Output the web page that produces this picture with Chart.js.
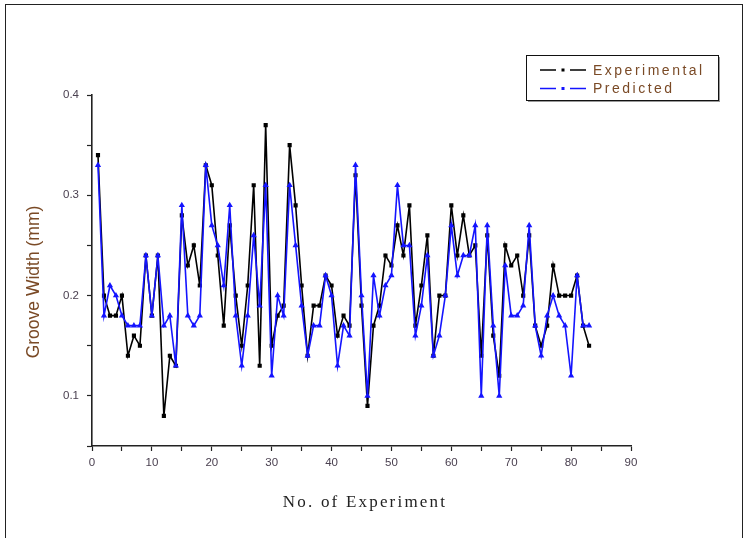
<!DOCTYPE html>
<html>
<head>
<meta charset="utf-8">
<script src="https://cdn.jsdelivr.net/npm/chart.js@4.4.1/dist/chart.umd.min.js"></script>
<style>
  html, body { margin: 0; padding: 0; background: #fff; }
  #wrap { position: relative; width: 749px; height: 538px; overflow: hidden; }
  #frame { position: absolute; left: 5px; top: 4px; width: 736px; height: 600px; border: 1px solid #222; }
  canvas { position: absolute; left: 0; top: 0; }
</style>
</head>
<body>
<div id="wrap">
  <div id="frame"></div>
  <canvas id="grooveChart" width="749" height="538"></canvas>
</div>
<script>
// experiment numbers (x axis)
const experimentNo = [
  1, 2, 3, 4, 5, 6, 7, 8, 9, 10, 11, 12, 13, 14, 15, 16, 17, 18, 19, 20,
  21, 22, 23, 24, 25, 26, 27, 28, 29, 30, 31, 32, 33, 34, 35, 36, 37, 38, 39, 40,
  41, 42, 43, 44, 45, 46, 47, 48, 49, 50, 51, 52, 53, 54, 55, 56, 57, 58, 59, 60,
  61, 62, 63, 64, 65, 66, 67, 68, 69, 70, 71, 72, 73, 74, 75, 76, 77, 78, 79, 80,
  81, 82, 83
];

// groove width (mm)
const experimental = [
  0.34, 0.20, 0.18, 0.18, 0.20, 0.14, 0.16, 0.15, 0.24, 0.18,
  0.24, 0.08, 0.14, 0.13, 0.28, 0.23, 0.25, 0.21, 0.33, 0.31,
  0.24, 0.17, 0.27, 0.20, 0.15, 0.21, 0.31, 0.13, 0.37, 0.15,
  0.18, 0.19, 0.35, 0.29, 0.21, 0.14, 0.19, 0.19, 0.22, 0.21,
  0.16, 0.18, 0.17, 0.32, 0.19, 0.09, 0.17, 0.19, 0.24, 0.23,
  0.27, 0.24, 0.29, 0.17, 0.21, 0.26, 0.14, 0.20, 0.20, 0.29,
  0.24, 0.28, 0.24, 0.25, 0.14, 0.26, 0.16, 0.12, 0.25, 0.23,
  0.24, 0.20, 0.26, 0.17, 0.15, 0.17, 0.23, 0.20, 0.20, 0.20,
  0.22, 0.17, 0.15
];

const predicted = [
  0.33, 0.18, 0.21, 0.20, 0.18, 0.17, 0.17, 0.17, 0.24, 0.18,
  0.24, 0.17, 0.18, 0.13, 0.29, 0.18, 0.17, 0.18, 0.33, 0.27,
  0.25, 0.21, 0.29, 0.18, 0.13, 0.18, 0.26, 0.19, 0.31, 0.12,
  0.20, 0.18, 0.31, 0.25, 0.19, 0.14, 0.17, 0.17, 0.22, 0.20,
  0.13, 0.17, 0.16, 0.33, 0.20, 0.10, 0.22, 0.18, 0.21, 0.22,
  0.31, 0.25, 0.25, 0.16, 0.19, 0.24, 0.14, 0.16, 0.20, 0.27,
  0.22, 0.24, 0.24, 0.27, 0.10, 0.27, 0.17, 0.10, 0.23, 0.18,
  0.18, 0.19, 0.27, 0.17, 0.14, 0.18, 0.20, 0.18, 0.17, 0.12,
  0.22, 0.17, 0.17
];

const xTitle = 'No. of Experiment';
const yTitle = 'Groove Width (mm)';

const toPoints = arr => arr.map((v, i) => ({ x: experimentNo[i], y: v }));

// axis titles drawn by hand so they sit where the original has them
const titlesPlugin = {
  id: 'titles',
  afterDraw(chart) {
    const ctx = chart.ctx;
    ctx.save();
    ctx.fillStyle = '#7a4a26';
    ctx.font = '17.5px "Liberation Sans", Arial, sans-serif';
    ctx.textAlign = 'center';
    ctx.textBaseline = 'middle';
    ctx.translate(34, 282);
    ctx.rotate(-Math.PI / 2);
    ctx.fillText(yTitle, 0, 0);
    ctx.restore();

    ctx.save();
    ctx.fillStyle = '#222';
    ctx.font = '17px "Liberation Serif", "Times New Roman", serif';
    ctx.letterSpacing = '2.2px';
    ctx.textAlign = 'center';
    ctx.textBaseline = 'middle';
    ctx.fillText(xTitle, 365, 503);
    ctx.restore();
  }
};

// boxed legend like the Origin one, top right
const boxLegend = {
  id: 'boxLegend',
  afterDraw(chart) {
    const ctx = chart.ctx;
    const x0 = 526, y0 = 55, w = 192, h = 45;
    ctx.save();
    ctx.fillStyle = '#999';
    ctx.fillRect(x0 + 2, y0 + 2, w, h);
    ctx.fillStyle = '#fff';
    ctx.fillRect(x0, y0, w, h);
    ctx.strokeStyle = '#111';
    ctx.lineWidth = 1;
    ctx.strokeRect(x0 + 0.5, y0 + 0.5, w, h);

    chart.data.datasets.forEach((ds, i) => {
      const y = y0 + 15 + i * 18.5;
      ctx.strokeStyle = ds.borderColor;
      ctx.lineWidth = 1.5;
      ctx.beginPath();
      ctx.moveTo(540, y); ctx.lineTo(556, y);
      ctx.moveTo(570, y); ctx.lineTo(586, y);
      ctx.stroke();
      ctx.fillStyle = ds.borderColor;
      ctx.fillRect(561.5, y - 1.5, 3, 3);
      ctx.fillStyle = '#7a4a26';
      ctx.font = '14px "Liberation Sans", Arial, sans-serif';
      ctx.letterSpacing = '2.5px';
      ctx.textAlign = 'left';
      ctx.textBaseline = 'middle';
      ctx.fillText(ds.label, 593, y + 1);
      ctx.letterSpacing = '0px';
    });
    ctx.restore();
  }
};

new Chart(document.getElementById('grooveChart').getContext('2d'), {
  type: 'line',
  data: {
    datasets: [{
      label: 'Experimental',
      data: toPoints(experimental),
      borderColor: '#000000',
      backgroundColor: '#000000',
      borderWidth: 1.6,
      pointStyle: 'rect',
      pointRadius: 1.8,
      tension: 0,
      order: 1
    }, {
      label: 'Predicted',
      data: toPoints(predicted),
      borderColor: '#1414ff',
      backgroundColor: '#1414ff',
      borderWidth: 1.6,
      pointStyle: 'triangle',
      pointRadius: 2,
      tension: 0,
      order: 0
    }]
  },
  options: {
    responsive: false,
    animation: false,
    layout: { padding: { left: 0, top: 95, right: 118, bottom: 0 } },
    plugins: { legend: { display: false }, tooltip: { enabled: false } },
    scales: {
      x: {
        type: 'linear',
        min: 0,
        max: 90,
        afterFit: s => { s.height = 92; },
        ticks: {
          stepSize: 5,
          autoSkip: false,
          maxRotation: 0,
          padding: 5,
          color: '#4a4050',
          font: { family: '"Liberation Sans", Arial, sans-serif', size: 11.5 },
          callback: v => (v % 10 === 0 ? v : '')
        },
        grid: { drawOnChartArea: false, tickLength: 5, tickColor: '#222', tickWidth: 1.2 },
        border: { color: '#222', width: 1.6 }
      },
      y: {
        min: 0.05,
        max: 0.4,
        afterFit: s => { s.width = 92; },
        ticks: {
          stepSize: 0.05,
          autoSkip: false,
          padding: 8,
          color: '#4a4050',
          font: { family: '"Liberation Sans", Arial, sans-serif', size: 11.5 },
          callback: v => (Math.abs(v * 10 - Math.round(v * 10)) < 1e-6 ? v.toFixed(1) : '')
        },
        grid: { drawOnChartArea: false, tickLength: 5, tickColor: '#222', tickWidth: 1.2 },
        border: { color: '#222', width: 1.6 }
      }
    }
  },
  plugins: [titlesPlugin, boxLegend]
});
</script>
</body>
</html>
